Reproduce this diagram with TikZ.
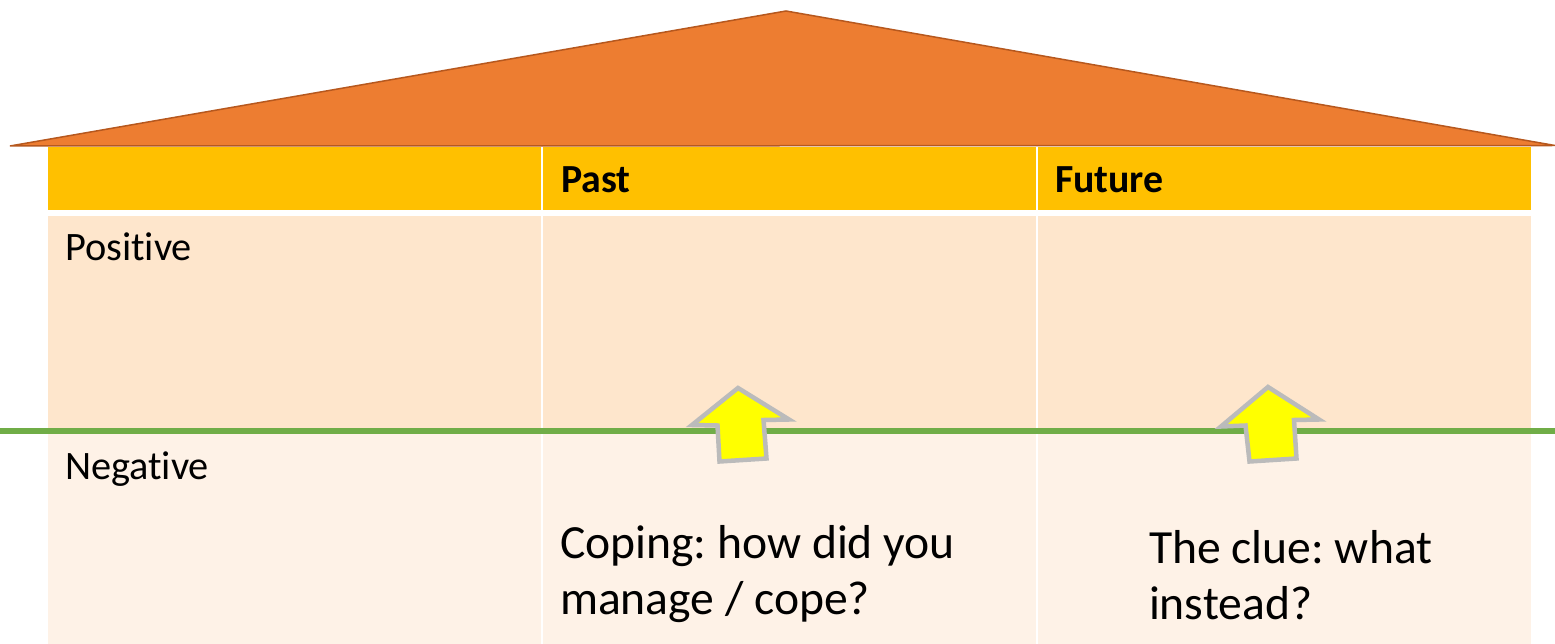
\documentclass[tikz,border=0pt]{standalone}
\usepackage{fontspec}
\setmainfont{Carlito}[Ligatures=NoCommon]
\frenchspacing
\definecolor{roof}{HTML}{ED7D31}
\definecolor{roofedge}{HTML}{B6581E}
\definecolor{headfill}{HTML}{FFC000}
\definecolor{rowa}{HTML}{FEE6CC}
\definecolor{rowb}{HTML}{FEF2E7}
\definecolor{linegreen}{HTML}{70AD47}
\definecolor{arrowyellow}{HTML}{FFFF00}
\definecolor{arrowgray}{HTML}{BBBBBB}
\tikzset{
  lbl/.style={anchor=base west, inner sep=0, outer sep=0, font=\fontsize{40.5}{48}\selectfont},
  headlbl/.style={lbl, font=\fontsize{40}{48}\selectfont\bfseries},
  biglbl/.style={anchor=base west, inner sep=0, outer sep=0, font=\fontsize{47.8}{56.5}\selectfont},
  uparrow/.style={fill=arrowyellow, draw=arrowgray, line width=4.5bp, line join=miter},
}
\begin{document}
\begin{tikzpicture}[x=1bp,y=-1bp]
\useasboundingbox (0,0) rectangle (1555,644);
% roof
\filldraw[fill=roof, draw=roofedge, line width=1.5bp, line join=miter]
  (10,146) -- (786,11) -- (1555,145.5) -- cycle;
% header row
\fill[headfill] (48,147) rectangle (541,210);
\fill[headfill] (543,147) rectangle (1036,210);
\fill[headfill] (1038,147) rectangle (1531,210);
% positive row
\fill[rowa] (48,216) rectangle (541,431);
\fill[rowa] (543,216) rectangle (1036,431);
\fill[rowa] (1038,216) rectangle (1531,431);
% negative row
\fill[rowb] (48,431) rectangle (541,644);
\fill[rowb] (543,431) rectangle (1036,644);
\fill[rowb] (1038,431) rectangle (1531,644);
% labels
\node[headlbl] (past) at (561,193) {Past};
\node[headlbl] (future) at (1055,193) {Future};
\node[lbl] (pos) at (65,260) {Positive};
\node[lbl] (neg) at (65,479) {Negative};
% green line
\coordinate (gl) at (0,431);
\coordinate (gr) at (1555,431);
\draw[linegreen, line width=5.5bp] (gl) -- (gr);
% arrows
\filldraw[uparrow] (738,388) -- (692,425) -- (717.5,425.5) -- (719.5,461.5)
  -- (766.5,458.5) -- (763.5,420) -- (789,419.5) -- cycle;
\filldraw[uparrow] (1268,387) -- (1221,426.5) -- (1245.5,425.5) -- (1249.5,461.5)
  -- (1296.5,458.5) -- (1294,420) -- (1319,419.5) -- cycle;
% texts
\node[biglbl] (coping) at (560,558) {\begin{tabular}[t]{@{}l@{}}Coping: how did you\\ manage / cope?\end{tabular}};
\node[biglbl] (clue) at (1149,563) {\begin{tabular}[t]{@{}l@{}}The clue: what\\ instead?\end{tabular}};
\end{tikzpicture}
\end{document}
